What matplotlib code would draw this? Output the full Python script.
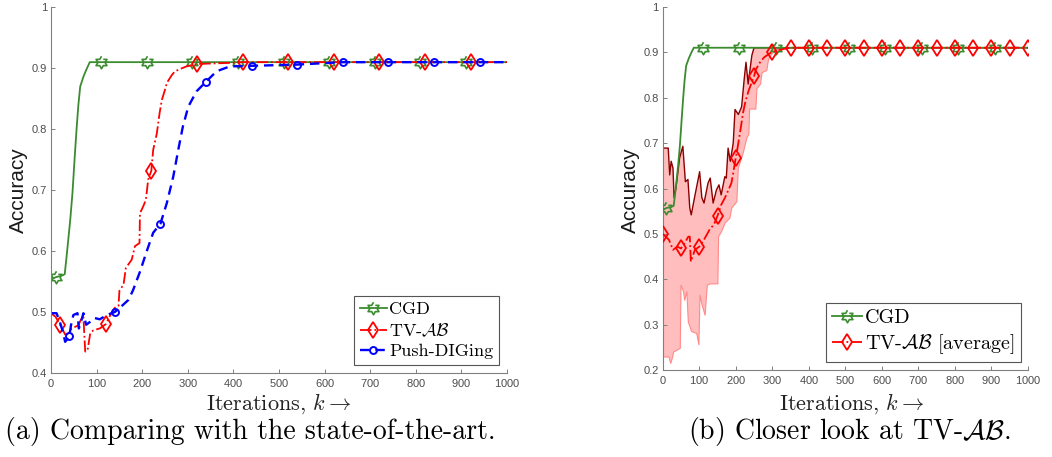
import numpy as np
import matplotlib
matplotlib.use("Agg")
import matplotlib.pyplot as plt

plt.rcParams['mathtext.fontset'] = 'cm'
plt.rcParams['axes.formatter.use_mathtext'] = True

# ---- datos panel (a) ----
cgd_x = [0, 10, 25, 30, 34, 38, 42, 47, 52, 56, 60, 64, 71, 77, 85,
         110, 210, 310, 410, 510, 610, 710, 810, 910, 1000]
cgd_y = [0.553, 0.557, 0.56, 0.562, 0.59, 0.62, 0.65, 0.695, 0.755, 0.80, 0.84, 0.87, 0.886, 0.897, 0.91,
         0.91, 0.91, 0.91, 0.91, 0.91, 0.91, 0.91, 0.91, 0.91, 0.91]
cgd_marks = [10, 110, 210, 310, 410, 510, 610, 710, 810, 910]

tv_x = [0, 10, 20, 31, 38, 45, 60, 67, 71, 75, 80, 86, 93, 107, 120, 133, 140, 148, 150, 159,
        164, 177, 184, 194, 195, 202, 208, 213, 220, 224, 232, 238, 243, 250, 254, 265, 272, 287,
        297, 320, 400, 420, 520, 620, 720, 820, 920, 1000]
tv_y = [0.498, 0.492, 0.479, 0.463, 0.465, 0.473, 0.478, 0.49, 0.492, 0.435, 0.437, 0.465, 0.47, 0.473,
        0.48, 0.499, 0.507, 0.51, 0.535, 0.545, 0.572, 0.586, 0.608, 0.613, 0.662, 0.673, 0.684, 0.717,
        0.732, 0.766, 0.793, 0.826, 0.848, 0.865, 0.876, 0.889, 0.895, 0.9, 0.903, 0.907, 0.909, 0.91,
        0.91, 0.91, 0.91, 0.91, 0.91, 0.91]
tv_marks = [20, 120, 220, 320, 420, 520, 620, 720, 820, 920]

pd_x = [0, 12, 18, 27, 31, 40, 44, 49, 58, 61, 67, 71, 77, 86, 96, 107, 122, 140, 151, 170, 180,
        195, 210, 224, 240, 254, 268, 279, 289, 301, 319, 340, 363, 392, 440, 540, 640, 740, 840,
        940, 1000]
pd_y = [0.498, 0.498, 0.487, 0.465, 0.451, 0.46, 0.479, 0.495, 0.498, 0.473, 0.487, 0.498, 0.479,
        0.484, 0.49, 0.488, 0.495, 0.5, 0.507, 0.52, 0.536, 0.566, 0.6, 0.63, 0.645, 0.679, 0.722,
        0.766, 0.804, 0.837, 0.862, 0.878, 0.895, 0.903, 0.904, 0.906, 0.91, 0.91, 0.91, 0.91, 0.91]
pd_marks = [40, 140, 240, 340, 440, 540, 640, 740, 840, 940]

# ---- datos panel (b) ----
avg_x = [0, 17, 28, 40, 50, 60, 70, 74, 77, 88, 100, 110, 130, 140, 150, 160, 170, 180, 188, 193,
         200, 205, 213, 220, 226, 235, 250, 255, 268, 278, 290, 300, 330, 350, 400, 450, 500, 550,
         600, 650, 700, 750, 800, 850, 900, 950, 1000]
avg_y = [0.5, 0.487, 0.465, 0.472, 0.468, 0.48, 0.494, 0.494, 0.439, 0.465, 0.472, 0.483, 0.512,
         0.52, 0.54, 0.564, 0.579, 0.597, 0.612, 0.634, 0.668, 0.69, 0.73, 0.767, 0.79, 0.815, 0.847,
         0.862, 0.88, 0.889, 0.896, 0.901, 0.907, 0.91, 0.91, 0.91, 0.91, 0.91, 0.91, 0.91, 0.91,
         0.91, 0.91, 0.91, 0.91, 0.91, 0.91]
avg_marks = list(range(0, 1001, 50))

up_x = [0, 15, 19, 23, 28, 31, 36, 42, 46, 55, 62, 69, 74, 78, 87, 101, 107, 113, 124, 130, 138,
        147, 154, 160, 170, 174, 179, 185, 193, 198, 207, 216, 223, 228, 234, 244, 250, 1000]
up_y = [0.689, 0.689, 0.63, 0.66, 0.645, 0.58, 0.6, 0.64, 0.667, 0.693, 0.615, 0.62, 0.557, 0.542,
        0.58, 0.637, 0.58, 0.568, 0.612, 0.623, 0.568, 0.597, 0.608, 0.586, 0.626, 0.623, 0.689,
        0.66, 0.70, 0.774, 0.763, 0.78, 0.84, 0.878, 0.83, 0.893, 0.91, 0.91]

lo_x = [0, 17, 22, 26, 30, 48, 50, 57, 60, 66, 70, 79, 93, 99, 102, 108, 116, 122, 130, 151, 153,
        161, 171, 184, 189, 203, 207, 216, 221, 230, 236, 238, 255, 258, 268, 272, 285, 290, 300,
        315, 340, 1000]
lo_y = [0.229, 0.229, 0.215, 0.226, 0.24, 0.248, 0.387, 0.373, 0.354, 0.373, 0.306, 0.285, 0.281,
        0.256, 0.365, 0.343, 0.321, 0.387, 0.39, 0.39, 0.494, 0.505, 0.524, 0.535, 0.557, 0.571,
        0.645, 0.667, 0.68, 0.71, 0.72, 0.775, 0.775, 0.82, 0.83, 0.855, 0.86, 0.885, 0.897, 0.907,
        0.91, 0.91]

# estilo
verde = '#3a8c2e'
rojo = '#ff0000'
azul = '#0000ff'
gris = '#808080'
serif = 'cmr10'

# hexagrama tipo MATLAB (puntas arriba y abajo)
ang = np.deg2rad(np.arange(12) * 30 + 90)
rad = np.where(np.arange(12) % 2 == 0, 1.0, 1 / np.sqrt(3))
hexagrama = np.column_stack([rad * np.cos(ang), rad * np.sin(ang)])


def cada(xs, marcas):
    return [i for i, v in enumerate(xs) if v in marcas]


def estilo_ejes(ax, ymin):
    for s in ['top', 'right']:
        ax.spines[s].set_visible(False)
    for s in ['left', 'bottom']:
        ax.spines[s].set_color(gris)
        ax.spines[s].set_linewidth(0.8)
    ax.set_xlim(0, 1000)
    ax.set_ylim(ymin, 1)
    ax.set_xticks(np.arange(0, 1001, 100))
    yt = np.round(np.arange(ymin, 1.0001, 0.1), 1)
    ax.set_yticks(yt)
    ax.set_yticklabels([('1' if v == 1 else f'{v:.1f}') for v in yt])
    ax.tick_params(direction='in', length=3, width=0.7, color=gris,
                   labelsize=8, labelcolor='#4d4d4d', pad=3)
    for lab in ax.get_xticklabels() + ax.get_yticklabels():
        lab.set_family('Liberation Sans')


def leyenda(ax, tam, anc):
    leg = ax.legend(loc='lower right', bbox_to_anchor=anc, prop={'family': serif, 'size': tam},
                    handlelength=1.5, handletextpad=0.15, labelspacing=0.25, borderpad=0.3,
                    borderaxespad=0, fancybox=False, framealpha=1)
    leg.get_frame().set_edgecolor('#555555')
    leg.get_frame().set_linewidth(0.8)
    return leg


fig = plt.figure(figsize=(10.52, 4.57), dpi=100)

# ---------- (a) ----------
ax1 = fig.add_axes([0.0485, 0.184, 0.4335, 0.8])
ax1.plot(cgd_x, cgd_y, '-', color=verde, lw=1.3, marker=hexagrama, ms=9, mfc='none',
         mec=verde, mew=1.2, markevery=cada(cgd_x, cgd_marks), label='CGD')
ax1.plot(tv_x, tv_y, '-.', color=rojo, lw=1.3, marker='d', ms=8, mfc='none', mec=rojo,
         mew=1.3, markevery=cada(tv_x, tv_marks), label=r'TV-$\mathcal{AB}$')
ax1.plot(pd_x, pd_y, '--', color=azul, lw=1.7, dashes=(4, 2.5), marker='o', ms=5, mfc='none',
         mec=azul, mew=1.4, markevery=cada(pd_x, pd_marks), label='Push-DIGing')
estilo_ejes(ax1, 0.4)
leyenda(ax1, 13, (0.982, 0.022))

# ---------- (b) ----------
ax2 = fig.add_axes([0.630, 0.19, 0.347, 0.795])
ax2.fill(np.concatenate([up_x, lo_x[::-1]]), np.concatenate([up_y, lo_y[::-1]]),
         color='#ffbdbd', lw=0, zorder=1)
ax2.plot(lo_x, lo_y, '-', color='#ff8a8a', lw=0.8, zorder=2)
ax2.plot(up_x, up_y, '-', color='#8b0000', lw=1.0, zorder=2)
ax2.plot(cgd_x, cgd_y, '-', color=verde, lw=1.3, marker=hexagrama, ms=9, mfc='none',
         mec=verde, mew=1.2, markevery=cada(cgd_x, cgd_marks), label='CGD', zorder=3)
ax2.plot(avg_x, avg_y, '-.', color=rojo, lw=1.3, marker='d', ms=8.5, mfc='none', mec=rojo,
         mew=1.3, markevery=cada(avg_x, avg_marks), label=r'TV-$\mathcal{AB}$ [average]', zorder=4)
estilo_ejes(ax2, 0.2)
leyenda(ax2, 14.5, (0.981, 0.022))

# etiquetas
for xc in [0.018, 0.599]:
    fig.text(xc, 0.584, 'Accuracy', rotation=90, ha='center', va='center',
             family='Liberation Sans', fontsize=15, color='#1a1a1a')
fig.text(0.265, 0.116, r'Iterations, $k \rightarrow$', ha='center', va='center',
         family=serif, fontsize=16, color='#222222')
fig.text(0.81, 0.116, r'Iterations, $k \rightarrow$', ha='center', va='center',
         family=serif, fontsize=16, color='#222222')
fig.text(0.238, 0.055, '(a) Comparing with the state-of-the-art.', ha='center', va='center',
         family=serif, fontsize=20)
fig.text(0.807, 0.055, r'(b) Closer look at TV-$\mathcal{AB}$.', ha='center', va='center',
         family=serif, fontsize=20)

fig.savefig('out.png', dpi=100)
